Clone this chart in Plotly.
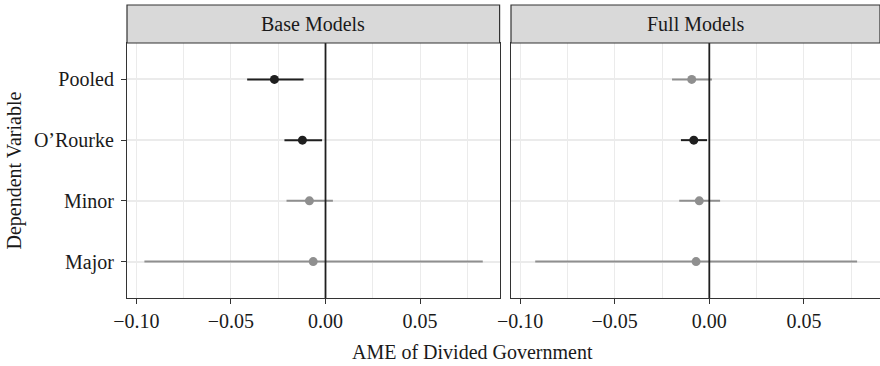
import plotly.graph_objects as go

# ---- data ----
variables = ["Pooled", "O\u2019Rourke", "Minor", "Major"]
panels = ["Base Models", "Full Models"]

base_est = [-0.0270, -0.0122, -0.0085, -0.0065]
base_lo = [-0.0414, -0.0217, -0.0206, -0.0957]
base_hi = [-0.0116, -0.0018, 0.0039, 0.0831]

full_est = [-0.0093, -0.0082, -0.0053, -0.0070]
full_lo = [-0.0197, -0.0150, -0.0159, -0.0920]
full_hi = [0.0014, -0.0012, 0.0057, 0.0781]

x_ticks = [-0.10, -0.05, 0.00, 0.05]

# ---- style ----
FONT = "Liberation Serif"
BLACK = "#1f1f1f"
GREY = "#8f8f8f"
GRID = "#ebebeb"
BORDER = "#333333"

W, H = 880, 366
ML, MR, MT, MB = 127, 0, 43, 68
plot_w = W - ML - MR
plot_h = H - MT - MB
dom_left = [0, 372.6 / plot_w]
dom_right = [(511 - ML) / plot_w, 1]

fig = go.Figure()

def add_panel(est, lo, hi, xaxis, yaxis):
    for sig, color in [(True, BLACK), (False, GREY)]:
        idx = [i for i in range(len(est)) if (hi[i] < 0 or lo[i] > 0) == sig]
        if not idx:
            continue
        fig.add_trace(go.Scatter(
            x=[est[i] for i in idx],
            y=[variables[i] for i in idx],
            mode="markers",
            marker=dict(color=color, size=9),
            error_x=dict(type="data", symmetric=False,
                         array=[hi[i] - est[i] for i in idx],
                         arrayminus=[est[i] - lo[i] for i in idx],
                         color=color, thickness=2, width=0),
            xaxis=xaxis, yaxis=yaxis, showlegend=False, hoverinfo="skip",
        ))

add_panel(base_est, base_lo, base_hi, "x", "y")
add_panel(full_est, full_lo, full_hi, "x2", "y2")

xcommon = dict(
    tickmode="array", tickvals=x_ticks, tickformat=".2f",
    showgrid=True, gridcolor=GRID, gridwidth=1.2,
    minor=dict(dtick=0.025, tick0=0, showgrid=True, gridcolor=GRID, gridwidth=0.8),
    zeroline=False, showline=True, mirror=True, linecolor=BORDER, linewidth=1.2,
    ticks="outside", ticklen=5, tickwidth=1.2, tickcolor=BORDER,
    tickfont=dict(family=FONT, size=20, color="#1a1a1a"),
)
ycommon = dict(
    type="category", categoryorder="array", categoryarray=variables[::-1],
    range=[-0.6, 3.6],
    showgrid=True, gridcolor=GRID, gridwidth=1.5,
    zeroline=False, showline=True, mirror=True, linecolor=BORDER, linewidth=1.2,
    ticks="outside", ticklen=5, tickwidth=1.2, tickcolor=BORDER,
    tickfont=dict(family=FONT, size=20, color="#1a1a1a"),
)

fig.update_layout(
    width=W, height=H,
    margin=dict(l=ML, r=MR, t=MT, b=MB, autoexpand=False),
    paper_bgcolor="white", plot_bgcolor="white",
    xaxis=dict(domain=dom_left, range=[-0.1049, 0.0920], **xcommon),
    xaxis2=dict(domain=dom_right, range=[-0.1048, 0.0902], **xcommon),
    yaxis=dict(domain=[0, 1], anchor="x", ticklabelstandoff=3, **ycommon),
    yaxis2=dict(domain=[0, 1], anchor="x2", showticklabels=False,
                **{k: v for k, v in ycommon.items() if k != "tickfont"}),
    font=dict(family=FONT, size=20, color="#1a1a1a"),
)
fig.update_yaxes(ticks="", selector=dict(anchor="x2"))

# zero reference lines
for xr, yr in [("x", "y domain"), ("x2", "y2 domain")]:
    fig.add_shape(type="line", xref=xr, yref=yr, x0=0, x1=0, y0=0, y1=1,
                  line=dict(color=BLACK, width=1.8), layer="above")

# facet strips
strip_top = (plot_h + MT - 5) / plot_h
for dom, label in [(dom_left, panels[0]), (dom_right, panels[1])]:
    fig.add_shape(type="rect", xref="paper", yref="paper",
                  x0=dom[0], x1=dom[1], y0=1, y1=strip_top,
                  fillcolor="#d9d9d9", line=dict(color=BORDER, width=1.2))
    fig.add_annotation(text=label, xref="paper", yref="paper",
                       x=(dom[0] + dom[1]) / 2, y=(1 + strip_top) / 2,
                       showarrow=False, xanchor="center", yanchor="middle",
                       font=dict(family=FONT, size=20, color="#1a1a1a"))

# axis titles
fig.add_annotation(text="AME of Divided Government", xref="paper", yref="paper",
                   x=(472 - ML) / plot_w, y=-(352 - (MT + plot_h)) / plot_h,
                   showarrow=False, xanchor="center", yanchor="middle",
                   font=dict(family=FONT, size=20, color="#1a1a1a"))
fig.add_annotation(text="Dependent Variable", xref="paper", yref="paper",
                   x=(14 - ML) / plot_w, y=0.5, textangle=-90,
                   showarrow=False, xanchor="center", yanchor="middle",
                   font=dict(family=FONT, size=20, color="#1a1a1a"))

fig.write_html(
    "out.html",
    config={"displayModeBar": False},
    post_script="document.body.style.margin='0';document.body.style.overflow='hidden';",
)
